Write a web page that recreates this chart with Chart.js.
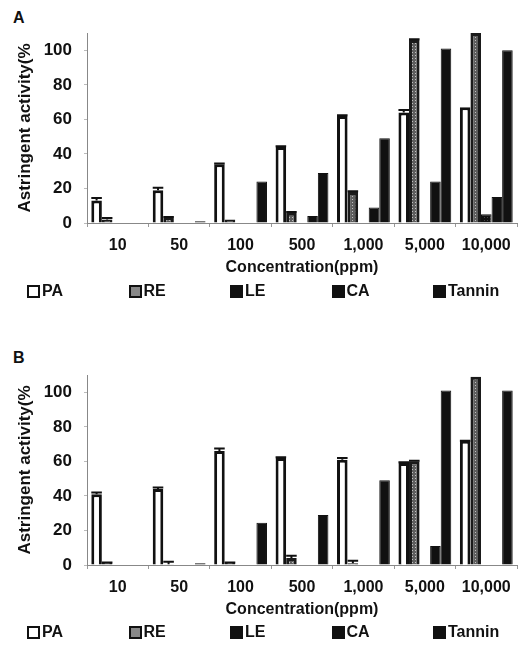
<!DOCTYPE html>
<html>
<head>
<meta charset="utf-8">
<script src="https://cdn.jsdelivr.net/npm/chart.js@4/dist/chart.umd.min.js"></script>
<style>
  html, body { margin: 0; padding: 0; background: #fff; }
  body { width: 525px; height: 662px; position: relative; overflow: hidden; font-family: "Liberation Sans", Arial, sans-serif; }
  .panel { position: absolute; left: 0; width: 525px; height: 283px; }
  .plabel { position: absolute; left: 13px; font-weight: bold; font-size: 16px; color: #111; }
  .legend { position: absolute; left: 0; width: 525px; height: 20px; }
  .litem { position: absolute; top: 0; display: flex; align-items: center; font-weight: bold; font-size: 16px; color: #111; }
  .lbox { width: 9px; height: 9px; border: 2px solid #111; margin-right: 2px; box-sizing: content-box; }
</style>
</head>
<body>
<div class="plabel" style="top:9px">A</div>
<div class="panel" style="top:0"><canvas id="chartA"></canvas></div>
<div class="legend" id="legendA" style="top:282px"></div>

<div class="plabel" style="top:349px">B</div>
<div class="panel" style="top:342px"><canvas id="chartB"></canvas></div>
<div class="legend" id="legendB" style="top:623px"></div>

<script>
// ---- data ----
const categories = ['10', '50', '100', '500', '1,000', '5,000', '10,000'];
const seriesNames = ['PA', 'RE', 'LE', 'CA', 'Tannin'];
const yTickValues = [0, 20, 40, 60, 80, 100];

// Panel A
const paA      = [13, 19, 34, 44, 62, 64, 67];
const paErrA   = [2, 2, 1, 1, 1, 2, 0];
const reA      = [2, 3, 2, 6, 18, 106, 110];
const reErrA   = [1.5, 1, 0, 1, 1, 1, 0];
const leA      = [0, 0, 0, 0, 0, 0, 5];
const caA      = [0, 0, 0, 4, 9, 24, 15];
const tanninA  = [0, 1, 24, 29, 49, 101, 100];

// Panel B
const paB      = [41, 44, 66, 62, 61, 59, 72];
const paErrB   = [1.5, 1.5, 2, 1, 1.5, 1, 0.5];
const reB      = [1.5, 0.5, 1.5, 4, 1, 60, 109];
const reErrB   = [0.5, 2, 0.5, 2, 2, 1, 0];
const leB      = [0, 0, 0, 0, 0, 0, 0];
const caB      = [0, 0, 0, 0, 0, 11, 0];
const tanninB  = [0, 1, 24.5, 29, 49, 101, 101];

const axisTitleX = 'Concentration(ppm)';
const axisTitleY = 'Astringent activity(%';

// ---- styles ----
function makePattern(bg, dot) {
  const c = document.createElement('canvas');
  c.width = 3; c.height = 3;
  const g = c.getContext('2d');
  g.fillStyle = bg; g.fillRect(0, 0, 3, 3);
  g.fillStyle = dot; g.fillRect(1, 1, 1, 1);
  return g.createPattern(c, 'repeat');
}
const rePattern = makePattern('#5e5e5e', '#c0c0c0');
const lePattern = makePattern('#111', '#444');

const seriesStyle = [
  { bg: '#ffffff', border: '#111', bw: 3, css: 'background:#fff' },
  { bg: rePattern, border: '#1a1a1a', bw: 3, css: 'background:#888' },
  { bg: lePattern, border: '#111', bw: 1, css: 'background:#111' },
  { bg: '#111111', border: '#111', bw: 1, css: 'background:#111' },
  { bg: '#111111', border: '#111', bw: 1, css: 'background:#111' }
];

// ---- error bar plugin (uses library scales) ----
const errorBars = {
  id: 'errorBars',
  afterDatasetsDraw(chart) {
    const ctx = chart.ctx;
    const y = chart.scales.y;
    chart.data.datasets.forEach((ds, di) => {
      if (!ds.errors) return;
      const meta = chart.getDatasetMeta(di);
      meta.data.forEach((el, i) => {
        const e = ds.errors[i];
        if (!e) return;
        const v = ds.data[i];
        const yTop = y.getPixelForValue(v + e);
        const yBase = y.getPixelForValue(v);
        const half = el.width / 2;
        ctx.save();
        ctx.strokeStyle = '#111';
        ctx.lineWidth = 2;
        ctx.beginPath();
        ctx.moveTo(el.x, yBase);
        ctx.lineTo(el.x, yTop);
        ctx.moveTo(el.x - half, yTop + 1);
        ctx.lineTo(el.x + half, yTop + 1);
        ctx.stroke();
        ctx.restore();
      });
    });
  }
};

function makeChart(id, seriesData, errs) {
  const datasets = seriesNames.map((name, i) => ({
    label: name,
    data: seriesData[i],
    errors: errs[i],
    backgroundColor: seriesStyle[i].bg,
    borderColor: seriesStyle[i].border,
    borderWidth: seriesStyle[i].bw,
    categoryPercentage: 0.86,
    barPercentage: 1.0
  }));
  return new Chart(document.getElementById(id), {
    type: 'bar',
    data: { labels: categories, datasets },
    plugins: [errorBars],
    options: {
      responsive: true,
      maintainAspectRatio: false,
      animation: false,
      layout: { padding: { top: 33, left: 0, right: 8, bottom: 0 } },
      plugins: { legend: { display: false }, tooltip: { enabled: false } },
      scales: {
        x: {
          afterFit(s) { s.height = 60; },
          grid: { display: true, drawOnChartArea: false, drawTicks: true, tickLength: 4, color: '#999', offset: true },
          border: { display: true, color: '#888', width: 1 },
          ticks: { color: '#111', font: { family: 'Liberation Sans', size: 16, weight: 'bold' }, padding: 9, maxRotation: 0, autoSkip: false },
          title: { display: true, text: axisTitleX, color: '#111', font: { family: 'Liberation Sans', size: 16, weight: 'bold' }, padding: { top: 0, bottom: 6 } }
        },
        y: {
          min: 0, max: 110,
          afterFit(s) { s.width = 87; },
          afterBuildTicks(s) { s.ticks = yTickValues.map(v => ({ value: v })); },
          grid: { display: true, drawOnChartArea: false, drawTicks: true, tickLength: 3, color: '#bbb' },
          border: { display: true, color: '#888', width: 1 },
          ticks: { color: '#111', font: { family: 'Liberation Sans', size: 17, weight: 'bold' }, padding: 12 },
          title: { display: true, text: axisTitleY, color: '#111', font: { family: 'Liberation Sans', size: 17, weight: 'bold' }, padding: { top: 15, bottom: 0 } }
        }
      }
    }
  });
}

function buildLegend(id) {
  const el = document.getElementById(id);
  seriesNames.forEach((name, i) => {
    const item = document.createElement('div');
    item.className = 'litem';
    item.style.left = (27 + i * 101.5) + 'px';
    const box = document.createElement('span');
    box.className = 'lbox';
    box.style.cssText = seriesStyle[i].css;
    const txt = document.createElement('span');
    txt.textContent = name;
    item.appendChild(box);
    item.appendChild(txt);
    el.appendChild(item);
  });
}

makeChart('chartA', [paA, reA, leA, caA, tanninA], [paErrA, reErrA, null, null, null]);
makeChart('chartB', [paB, reB, leB, caB, tanninB], [paErrB, reErrB, null, null, null]);
buildLegend('legendA');
buildLegend('legendB');
</script>
</body>
</html>
